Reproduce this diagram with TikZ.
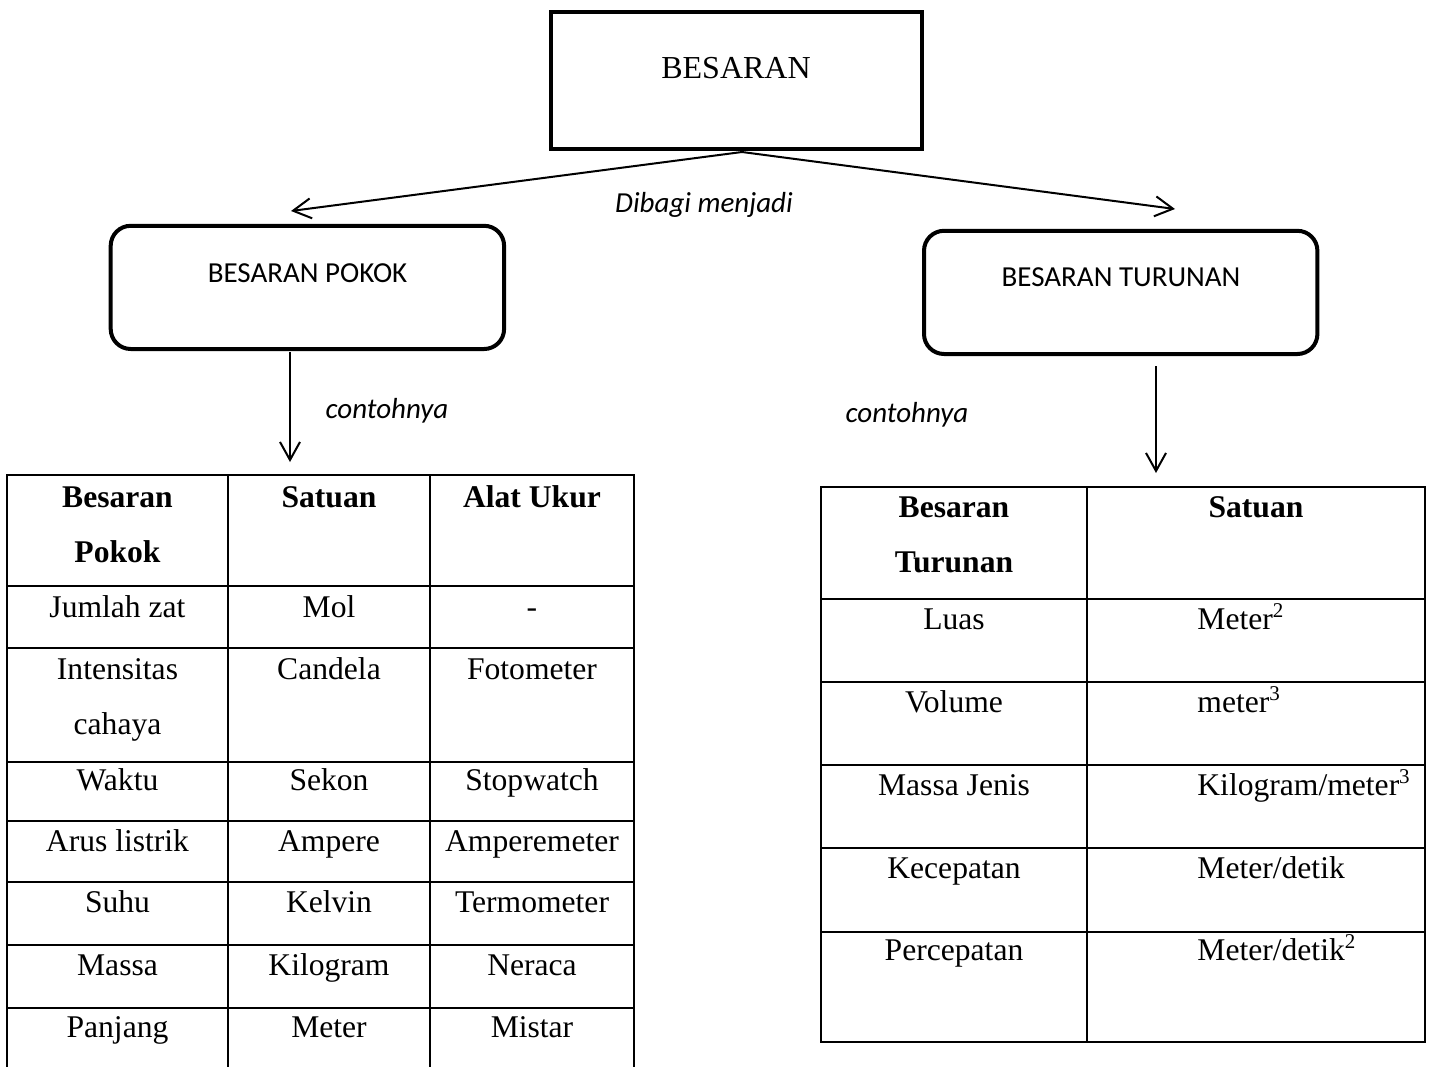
\documentclass[tikz,border=0pt]{standalone}
\usepackage{fontspec}
\usetikzlibrary{arrows.meta}
\newfontfamily\tnrfont{Liberation Serif}
\newfontfamily\calfont{Carlito}
\newcommand{\supr}[1]{\raisebox{0.36em}{\fontsize{10.5pt}{10pt}\selectfont #1}}
\begin{document}
\begin{tikzpicture}[x=0.5pt,y=-0.5pt,
  boxline/.style={draw, line width=2pt, line join=miter},
  topbox/.style={boxline, rectangle, minimum width=185.8pt, minimum height=68.5pt, inner sep=0pt},
  catbox/.style={boxline, rectangle, rounded corners=10pt, minimum width=196.7pt, minimum height=61.6pt, inner sep=0pt},
  conn/.style={line width=1pt, -{Straight Barb[length=9pt,width=10pt,line width=1pt]}},
  gridline/.style={line width=1pt},
  cell/.style={anchor=base, inner sep=0pt, font=\tnrfont\fontsize{15.8pt}{18pt}\selectfont},
  hcell/.style={anchor=base, inner sep=0pt, font=\tnrfont\bfseries\fontsize{15.8pt}{18pt}\selectfont},
  lcell/.style={anchor=base west, inner sep=0pt, font=\tnrfont\fontsize{15.8pt}{18pt}\selectfont},
  lbl/.style={anchor=base, inner sep=0pt, font=\calfont\fontsize{14.5pt}{17pt}\selectfont},
  note/.style={anchor=base, inner sep=0pt, font=\calfont\itshape\fontsize{14.5pt}{17pt}\selectfont}]
\useasboundingbox (0,0) rectangle (1434,1066);
\fill[white] (0,0) rectangle (1434,1066);

% boxes
\node[topbox] (top) at (736.5,80.5) {};
\node[anchor=base, inner sep=0pt, font=\tnrfont\fontsize{16pt}{18pt}\selectfont] (topT) at (736,78) {BESARAN};
\node[catbox] (pokok) at (307.4,287.4) {};
\node[lbl] (pokokT) at (307.5,282.7) {BESARAN POKOK};
\node[catbox] (turunan) at (1120.7,292.4) {};
\node[lbl] (turunanT) at (1121,286.7) {BESARAN TURUNAN};

% connectors
\coordinate (split) at (742,152);
\coordinate (tipL) at (291,211);
\coordinate (tipR) at (1175,209);
\draw[conn] (split) -- (tipL);
\draw[conn] (split) -- (tipR);
\node[note] (dibagi) at (704,212) {Dibagi menjadi};

\coordinate (pdS) at (290,352);
\coordinate (pdE) at (290,462);
\draw[conn] (pdS) -- (pdE);
\node[note] (contohL) at (387,418) {contohnya};

\coordinate (tdS) at (1156,366);
\coordinate (tdE) at (1156,473);
\draw[conn] (tdS) -- (tdE);
\node[note] (contohR) at (907,422) {contohnya};

% left table grid
\draw[gridline] (7,1068) -- (7,475) -- (634,475) -- (634,1068);
\foreach \x in {228,430} \draw[gridline] (\x,475) -- (\x,1068);
\foreach \y in {586,648,762,821,882,945,1008} \draw[gridline] (7,\y) -- (634,\y);

% left table text
\node[hcell] (h1a) at (117.5,507) {Besaran};
\node[hcell] (h1b) at (117.5,562) {Pokok};
\node[hcell] (h2) at (329,507) {Satuan};
\node[hcell] (h3) at (532,507) {Alat Ukur};

\node[cell] (r1a) at (117.5,617) {Jumlah zat};
\node[cell] (r1b) at (329,617) {Mol};
\node[cell] (r1c) at (532,617) {-};

\node[cell] (r2a1) at (117.5,679) {Intensitas};
\node[cell] (r2a2) at (117.5,734) {cahaya};
\node[cell] (r2b) at (329,679) {Candela};
\node[cell] (r2c) at (532,679) {Fotometer};

\node[cell] (r3a) at (117.5,790) {Waktu};
\node[cell] (r3b) at (329,790) {Sekon};
\node[cell] (r3c) at (532,790) {Stopwatch};

\node[cell] (r4a) at (117.5,851) {Arus listrik};
\node[cell] (r4b) at (329,851) {Ampere};
\node[cell] (r4c) at (532,851) {Amperemeter};

\node[cell] (r5a) at (117.5,912) {Suhu};
\node[cell] (r5b) at (329,912) {Kelvin};
\node[cell] (r5c) at (532,912) {Termometer};

\node[cell] (r6a) at (117.5,975) {Massa};
\node[cell] (r6b) at (329,975) {Kilogram};
\node[cell] (r6c) at (532,975) {Neraca};

\node[cell] (r7a) at (117.5,1037) {Panjang};
\node[cell] (r7b) at (329,1037) {Meter};
\node[cell] (r7c) at (532,1037) {Mistar};

% right table grid
\draw[gridline] (821,487) rectangle (1425,1042);
\draw[gridline] (1087,487) -- (1087,1042);
\foreach \y in {599,682,765,848,932} \draw[gridline] (821,\y) -- (1425,\y);

% right table text
\node[hcell] (k1a) at (954,517) {Besaran};
\node[hcell] (k1b) at (954,572) {Turunan};
\node[hcell] (k2) at (1256,517) {Satuan};

\node[cell] (s1a) at (954,629) {Luas};
\node[lcell] (s1b) at (1197,629) {Meter\supr{2}};
\node[cell] (s2a) at (954,712) {Volume};
\node[lcell] (s2b) at (1197,712) {meter\supr{3}};
\node[cell] (s3a) at (954,795) {Massa Jenis};
\node[lcell] (s3b) at (1197,795) {Kilogram/meter\supr{3}};
\node[cell] (s4a) at (954,878) {Kecepatan};
\node[lcell] (s4b) at (1197,878) {Meter/detik};
\node[cell] (s5a) at (954,960) {Percepatan};
\node[lcell] (s5b) at (1197,960) {Meter/detik\supr{2}};
\end{tikzpicture}
\end{document}
